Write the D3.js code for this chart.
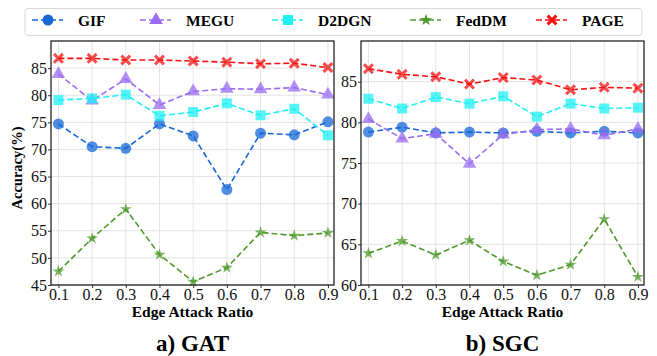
<!DOCTYPE html>
<html>
<head>
<meta charset="utf-8">
<script src="https://cdn.jsdelivr.net/npm/d3@7"></script>
<style>
  body { margin: 0; background: #fff; }
  svg, svg text { font-family: "Liberation Serif", "Times New Roman", Times, "DejaVu Serif", serif; }
  svg { display: block; }
</style>
</head>
<body>
<svg id="chart" width="657" height="356"></svg>
<script>
// edge attack ratios on x
const ratios = [0.1, 0.2, 0.3, 0.4, 0.5, 0.6, 0.7, 0.8, 0.9]
const methods = ['GIF', 'MEGU', 'D2DGN', 'FedDM', 'PAGE']

// a) GAT
const gatGIF = [74.7, 70.5, 70.2, 74.7, 72.5, 62.6, 73.0, 72.7, 75.1]
const gatMEGU = [83.9, 79.0, 83.0, 78.2, 80.7, 81.2, 81.1, 81.4, 80.1]
const gatD2DGN = [79.1, 79.4, 80.1, 76.2, 76.9, 78.5, 76.3, 77.5, 72.6]
const gatFedDM = [47.5, 53.6, 59.0, 50.6, 45.6, 48.2, 54.7, 54.1, 54.6]
const gatPAGE = [86.8, 86.8, 86.5, 86.5, 86.3, 86.1, 85.8, 85.9, 85.1]

// b) SGC
const sgcGIF = [78.8, 79.4, 78.7, 78.8, 78.7, 78.9, 78.7, 78.9, 78.7]
const sgcMEGU = [80.4, 78.0, 78.6, 74.9, 78.5, 79.1, 79.2, 78.4, 79.2]
const sgcD2DGN = [82.9, 81.7, 83.1, 82.3, 83.2, 80.7, 82.3, 81.7, 81.8]
const sgcFedDM = [63.9, 65.4, 63.7, 65.5, 62.9, 61.2, 62.5, 68.1, 61.0]
const sgcPAGE = [86.6, 85.9, 85.6, 84.7, 85.5, 85.2, 84.0, 84.3, 84.2]

const gatTicks = [45, 50, 55, 60, 65, 70, 75, 80, 85]
const sgcTicks = [60, 65, 70, 75, 80, 85]

const colors = {
  GIF: '#1668d8',
  MEGU: '#9a6cf0',
  D2DGN: '#1ff0f4',
  FedDM: '#4f9a2c',
  PAGE: '#f51212'
}

const panels = [
  { title: 'a) GAT', series: [gatGIF, gatMEGU, gatD2DGN, gatFedDM, gatPAGE], yDomain: [45, 90], yTicks: gatTicks, x0: 51, x1: 334, ylabel: true },
  { title: 'b) SGC', series: [sgcGIF, sgcMEGU, sgcD2DGN, sgcFedDM, sgcPAGE], yDomain: [60, 90], yTicks: sgcTicks, x0: 361, x1: 644, ylabel: false }
]

const FONT = '"Liberation Serif", "Times New Roman", Times, "DejaVu Serif", serif'
const svg = d3.select('#chart')
const plotTop = 41
const plotBottom = 285

// marker shapes
const xShape = (r) => {
  // filled X (like matplotlib 'X')
  const a = r * 0.4
  const pts = [[-r, -r + a], [-r + a, -r], [0, -a], [r - a, -r], [r, -r + a], [a, 0],
    [r, r - a], [r - a, r], [0, a], [-r + a, r], [-r, r - a], [-a, 0]]
  return 'M' + pts.map(p => p.join(',')).join('L') + 'Z'
}
function drawMarker (g, name, x, y, opacity) {
  const c = colors[name]
  let p
  if (name === 'GIF') p = d3.symbol(d3.symbolCircle, 95)()
  else if (name === 'MEGU') p = d3.symbol(d3.symbolTriangle, 80)()
  else if (name === 'D2DGN') p = d3.symbol(d3.symbolSquare, 100)()
  else if (name === 'FedDM') p = d3.symbol(d3.symbolStar, 45)()
  else p = xShape(5.5)
  g.append('path')
    .attr('d', p)
    .attr('transform', `translate(${x},${y})`)
    .attr('fill', c)
    .attr('fill-opacity', opacity)
}

panels.forEach(pn => {
  const x = d3.scaleLinear().domain([0.078, 0.918]).range([pn.x0, pn.x1])
  const y = d3.scaleLinear().domain(pn.yDomain).range([plotBottom, plotTop])
  const g = svg.append('g')

  // grid
  g.append('g').selectAll('line')
    .data(ratios)
    .join('line')
    .attr('x1', d => x(d)).attr('x2', d => x(d))
    .attr('y1', plotTop).attr('y2', plotBottom)
    .attr('stroke', '#e3e3e3').attr('stroke-width', 1)
  g.append('g').selectAll('line')
    .data(pn.yTicks)
    .join('line')
    .attr('x1', pn.x0).attr('x2', pn.x1)
    .attr('y1', d => y(d)).attr('y2', d => y(d))
    .attr('stroke', '#e3e3e3').attr('stroke-width', 1)

  // axes
  const xAxis = g.append('g')
    .attr('transform', `translate(0,${plotBottom})`)
    .call(d3.axisBottom(x).tickValues(ratios).tickFormat(d3.format('.1f')).tickSize(3).tickSizeOuter(0))
  const yAxis = g.append('g')
    .attr('transform', `translate(${pn.x0},0)`)
    .call(d3.axisLeft(y).tickValues(pn.yTicks).tickSize(3).tickSizeOuter(0))
  ;[xAxis, yAxis].forEach(a => {
    a.attr('font-family', FONT).attr('font-size', 16)
    a.select('.domain').remove()
    a.selectAll('.tick line').attr('stroke', '#333')
    a.selectAll('.tick text').attr('fill', '#111')
  })
  xAxis.selectAll('.tick text').attr('dy', '0.8em').attr('y', 2)
  yAxis.selectAll('.tick text').attr('x', -4)

  // series
  pn.series.forEach((vals, i) => {
    const name = methods[i]
    const line = d3.line().x((d, j) => x(ratios[j])).y(d => y(d))
    g.append('path')
      .datum(vals)
      .attr('d', line)
      .attr('fill', 'none')
      .attr('stroke', colors[name])
      .attr('stroke-width', 1.6)
      .attr('stroke-dasharray', '6,3')
    vals.forEach((v, j) => drawMarker(g, name, x(ratios[j]), y(v), 0.75))
  })

  // frame
  g.append('rect')
    .attr('x', pn.x0).attr('y', plotTop)
    .attr('width', pn.x1 - pn.x0).attr('height', plotBottom - plotTop)
    .attr('fill', 'none').attr('stroke', '#111').attr('stroke-width', 1.2)

  // x label
  g.append('text')
    .attr('x', (pn.x0 + pn.x1) / 2).attr('y', 317)
    .attr('text-anchor', 'middle')
    .attr('font-family', FONT)
    .attr('font-size', 15.5).attr('font-weight', 'bold')
    .text('Edge Attack Ratio')

  // subtitle
  g.append('text')
    .attr('x', (pn.x0 + pn.x1) / 2).attr('y', 351)
    .attr('text-anchor', 'middle')
    .attr('font-family', FONT)
    .attr('font-size', 23).attr('font-weight', 'bold')
    .text(pn.title)

  if (pn.ylabel) {
    g.append('text')
      .attr('transform', `translate(22,${(plotTop + plotBottom) / 2 + 5}) rotate(-90)`)
      .attr('text-anchor', 'middle')
      .attr('font-family', FONT)
      .attr('font-size', 14.5).attr('font-weight', 'bold')
      .text('Accuracy(%)')
  }
})

// legend
const legend = svg.append('g')
legend.append('rect')
  .attr('x', 25).attr('y', 8.5)
  .attr('width', 617).attr('height', 27)
  .attr('rx', 3)
  .attr('fill', '#fff').attr('stroke', '#d8d8d8').attr('stroke-width', 1)
const legendX = [32, 140, 272, 410, 536]
methods.forEach((name, i) => {
  const lx = legendX[i]
  const ly = 20
  legend.append('line')
    .attr('x1', lx).attr('x2', lx + 31)
    .attr('y1', ly).attr('y2', ly)
    .attr('stroke', colors[name]).attr('stroke-width', 1.6)
    .attr('stroke-dasharray', '6,3')
  drawMarker(legend, name, lx + 16, ly, 1)
  legend.append('text')
    .attr('x', lx + 46).attr('y', ly + 5.5)
    .attr('font-family', FONT)
    .attr('font-size', 15.5).attr('font-weight', 'bold')
    .text(name)
})
</script>
</body>
</html>
